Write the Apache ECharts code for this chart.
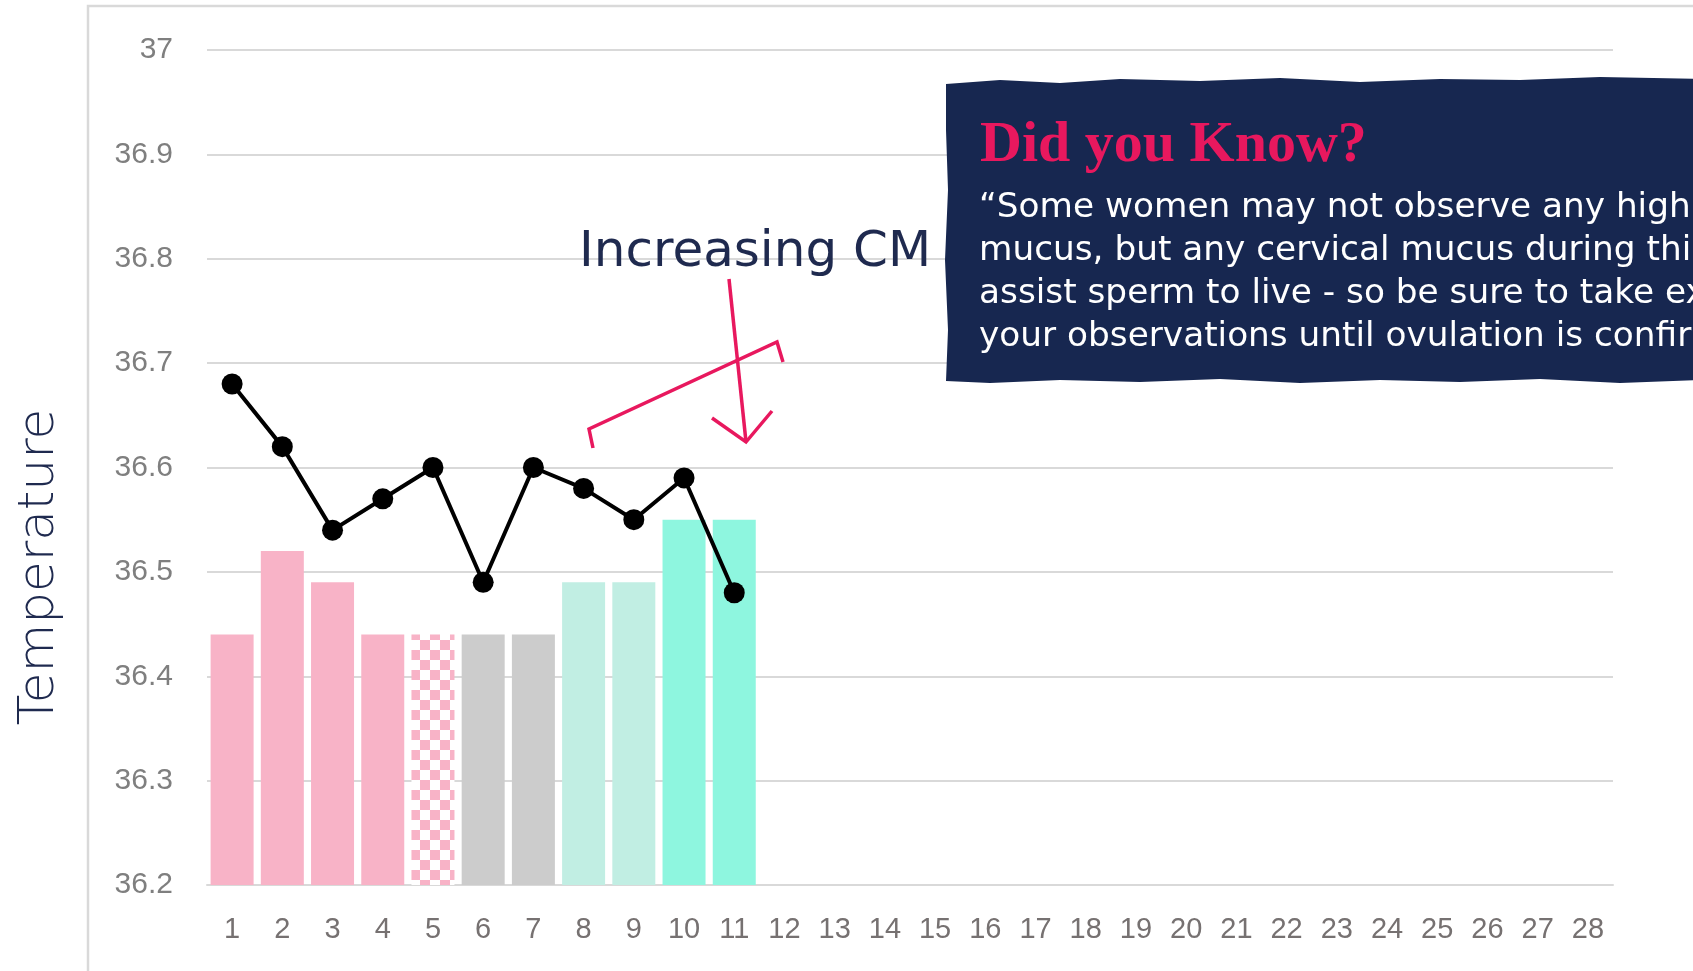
<!DOCTYPE html>
<html>
<head>
<meta charset="utf-8">
<title>Temperature</title>
<script src="https://cdn.jsdelivr.net/npm/echarts@6/dist/echarts.min.js"></script>
<style>
  html, body { margin: 0; padding: 0; background: #fff; }
  #chart { width: 1693px; height: 971px; }
</style>
</head>
<body>
<div id="chart"></div>
<script>
// cycle days
const days = ['1', '2', '3', '4', '5', '6', '7', '8', '9', '10', '11', '12', '13', '14',
  '15', '16', '17', '18', '19', '20', '21', '22', '23', '24', '25', '26', '27', '28'];
// basal body temperature, one reading per day
const temperature = [36.68, 36.62, 36.54, 36.57, 36.60, 36.49, 36.60, 36.58, 36.55, 36.59, 36.48];
// cervical mucus bars (height on the temperature scale)
const mucusLevel = [36.44, 36.52, 36.49, 36.44, 36.44, 36.44, 36.44, 36.49, 36.49, 36.55, 36.55];
const mucusType = ['period', 'period', 'period', 'period', 'spotting', 'dry', 'dry',
  'creamy', 'creamy', 'wet', 'wet'];
const bodyLines = [
  '\u201cSome women may not observe any high',
  'mucus, but any cervical mucus during this',
  'assist sperm to live - so be sure to take extra',
  'your observations until ovulation is confirmed'
];

// pink / white checker for spotting days
function checker() {
  const c = document.createElement('canvas');
  c.width = 20;
  c.height = 20;
  const ctx = c.getContext('2d');
  ctx.fillStyle = '#fff';
  ctx.fillRect(0, 0, 20, 20);
  ctx.fillStyle = '#F8B3C7';
  ctx.fillRect(0, 0, 10, 10);
  ctx.fillRect(10, 10, 10, 10);
  return c;
}

const typeColor = {
  period: '#F8B3C7',
  spotting: { image: checker(), repeat: 'repeat' },
  dry: '#CCCCCC',
  creamy: '#C1EEE3',
  wet: '#8EF6DF'
};

const pink = '#E8185E';
const navy = '#1F2A4F';

const chart = echarts.init(document.getElementById('chart'));

const option = {
  backgroundColor: '#fff',
  animation: false,
  grid: { left: 207, right: 80, top: 50, bottom: 86 },
  xAxis: {
    type: 'category',
    data: days,
    axisLine: { show: true, lineStyle: { color: '#D9D9D9', width: 2 } },
    axisTick: { show: false },
    axisLabel: {
      color: '#767171',
      fontSize: 29,
      fontFamily: 'Liberation Sans',
      margin: 30
    }
  },
  yAxis: {
    type: 'value',
    min: 36.2,
    max: 37,
    interval: 0.1,
    axisLine: { show: false },
    axisTick: { show: false },
    axisLabel: {
      color: '#7F7F7F',
      fontSize: 30,
      fontFamily: 'Liberation Sans',
      margin: 34,
      formatter: v => String(+v.toFixed(1))
    },
    splitLine: { lineStyle: { color: '#D9D9D9', width: 2 } }
  },
  series: [
    {
      type: 'bar',
      barWidth: 43,
      data: mucusLevel.map((v, i) => ({ value: v, itemStyle: { color: typeColor[mucusType[i]] } })),
      z: 2
    },
    {
      type: 'line',
      data: temperature,
      symbol: 'circle',
      symbolSize: 21,
      itemStyle: { color: '#000' },
      lineStyle: { color: '#000', width: 4 },
      z: 3
    }
  ],
  graphic: [
    // outer frame
    {
      type: 'rect',
      shape: { x: 88, y: 6, width: 1700, height: 1100 },
      style: { fill: 'none', stroke: '#D9D9D9', lineWidth: 2.5 },
      silent: true, z: 0
    },
    {
      type: 'text',
      x: 40, y: 567,
      rotation: Math.PI / 2,
      style: {
        text: 'Temperature', fill: navy,
        fontSize: 50, fontFamily: 'DejaVu Sans', fontWeight: 200,
        align: 'center', verticalAlign: 'middle'
      },
      z: 10
    },
    // annotation
    {
      type: 'text',
      x: 579, y: 253,
      style: {
        text: 'Increasing CM', fill: navy,
        fontSize: 50, fontFamily: 'DejaVu Sans',
        align: 'left', verticalAlign: 'middle'
      },
      z: 10
    },
    {
      type: 'polyline',
      shape: { points: [[593, 448], [589, 429], [777, 342], [783, 362]] },
      style: { stroke: pink, lineWidth: 3.5, fill: 'none' },
      z: 10
    },
    {
      type: 'line',
      shape: { x1: 729, y1: 279, x2: 746, y2: 442 },
      style: { stroke: pink, lineWidth: 3.5 },
      z: 10
    },
    {
      type: 'polyline',
      shape: { points: [[712, 418], [746, 442], [772, 411]] },
      style: { stroke: pink, lineWidth: 3.5, fill: 'none' },
      z: 10
    },
    // did you know box
    {
      type: 'polygon',
      shape: {
        points: [[946, 84], [1000, 80], [1060, 83], [1120, 79], [1200, 81], [1280, 78],
          [1360, 82], [1440, 79], [1520, 80], [1600, 77], [1700, 79], [1700, 380],
          [1620, 383], [1540, 379], [1460, 382], [1380, 380], [1300, 383], [1220, 379],
          [1140, 382], [1060, 380], [990, 383], [946, 381], [948, 330], [945, 260],
          [948, 190], [946, 130]]
      },
      style: { fill: '#172750' },
      z: 20
    },
    {
      type: 'text',
      x: 980, y: 146,
      style: {
        text: 'Did you Know?', fill: pink,
        fontSize: 58, fontFamily: 'Liberation Serif', fontWeight: 'bold',
        align: 'left', verticalAlign: 'middle'
      },
      z: 21
    },
    ...bodyLines.map((t, i) => ({
      type: 'text',
      x: 979, y: 208 + i * 43,
      style: {
        text: t, fill: '#fff',
        fontSize: 34.3, fontFamily: 'DejaVu Sans',
        align: 'left', verticalAlign: 'middle'
      },
      z: 21
    }))
  ]
};

chart.setOption(option);
</script>
</body>
</html>
